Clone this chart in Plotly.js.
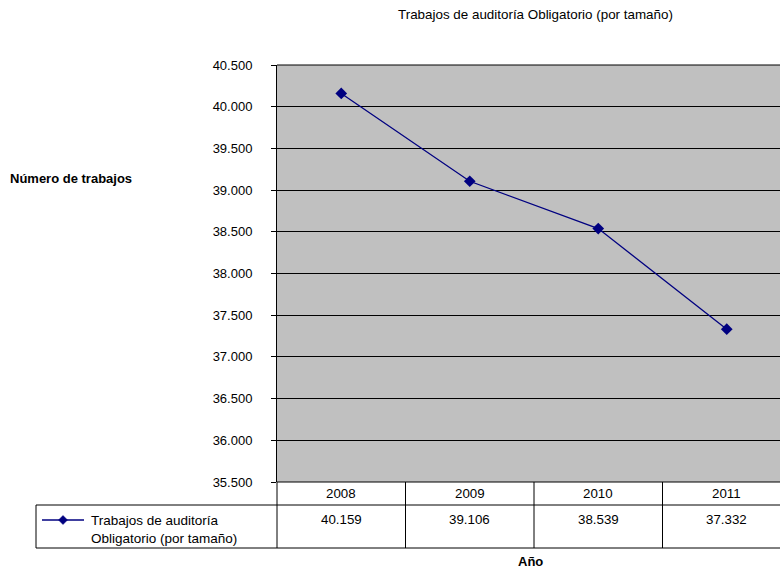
<!DOCTYPE html>
<html>
<head>
<meta charset="utf-8">
<script src="https://cdn.plot.ly/plotly-3.0.1.min.js"></script>
<style>
html,body{margin:0;padding:0;overflow:hidden;background:#fff;}
#chart{width:800px;height:570px;}
</style>
</head>
<body>
<div id="chart"></div>
<script>
// ---- data ----
const years = ['2008', '2009', '2010', '2011'];
const trabajos = [40159, 39106, 38539, 37332];
const seriesName = 'Trabajos de auditoría<br>Obligatorio (por tamaño)';
const chartTitle = 'Trabajos de auditoría Obligatorio (por tamaño)';
const yTitle = 'Número de trabajos';
const xTitle = 'Año';

// ---- layout geometry (pixels) ----
const W = 800, H = 570;
const L = 277, R = 791, T = 65, B = 482;
const pw = R - L, ph = B - T;
const px = x => (x - L) / pw;
const py = y => (B - y) / ph;
const FONT = 'Liberation Sans, Arial, sans-serif';
const NAVY = '#000080';

function fmt(v) {
  return String(v).replace(/\B(?=(\d{3})+(?!\d))/g, '.');
}

const shapes = [];
const annotations = [];
const black = {color: '#000', width: 1};

// table rows
const rowTop = 482, rowMid = 505, rowBot = 548, tableLeft = 36;
shapes.push({type: 'line', xref: 'paper', yref: 'paper', x0: px(tableLeft), x1: 1.02, y0: py(rowMid), y1: py(rowMid), line: black});
shapes.push({type: 'line', xref: 'paper', yref: 'paper', x0: px(tableLeft), x1: 1.02, y0: py(rowBot), y1: py(rowBot), line: black});
shapes.push({type: 'line', xref: 'paper', yref: 'paper', x0: px(tableLeft), x1: px(tableLeft), y0: py(rowMid), y1: py(rowBot), line: black});
shapes.push({type: 'line', xref: 'paper', yref: 'paper', x0: 0, x1: 0, y0: py(rowTop), y1: py(rowBot), line: black});
// column separators
for (let i = 0; i < years.length; i++) {
  shapes.push({type: 'line', xref: 'x', yref: 'paper', x0: i + 0.5, x1: i + 0.5, y0: py(rowTop), y1: py(rowBot), line: black});
}
// top / bottom frame lines of plot
shapes.push({type: 'line', xref: 'paper', yref: 'paper', x0: 0, x1: 1, y0: 1, y1: 1, line: black});
shapes.push({type: 'line', xref: 'paper', yref: 'paper', x0: 0, x1: 1, y0: 0, y1: 0, line: black});

// legend key inside the table's first cell
const keyY = 520, keyX0 = 42, keyX1 = 84, keyXm = 63, d = 4.5;
shapes.push({type: 'line', xref: 'paper', yref: 'paper', x0: px(keyX0), x1: px(keyX1), y0: py(keyY), y1: py(keyY),
  line: {color: NAVY, width: 1.3}});
shapes.push({type: 'path', xref: 'paper', yref: 'paper',
  path: `M ${px(keyXm - d)} ${py(keyY)} L ${px(keyXm)} ${py(keyY - d)} L ${px(keyXm + d)} ${py(keyY)} L ${px(keyXm)} ${py(keyY + d)} Z`,
  fillcolor: NAVY, line: {color: NAVY, width: 0.5}});
annotations.push({xref: 'paper', yref: 'paper', x: px(89), y: py(511), text: seriesName, showarrow: false,
  xanchor: 'left', yanchor: 'top', align: 'left', font: {family: FONT, size: 13.5, color: '#000'}});

years.forEach((yr, i) => {
  annotations.push({xref: 'x', yref: 'paper', x: i, y: py(493.5), text: yr, showarrow: false,
    xanchor: 'center', yanchor: 'middle', font: {family: FONT, size: 13.3, color: '#000'}});
  annotations.push({xref: 'x', yref: 'paper', x: i, y: py(519), text: fmt(trabajos[i]), showarrow: false,
    xanchor: 'center', yanchor: 'middle', font: {family: FONT, size: 13.3, color: '#000'}});
});

annotations.push({xref: 'paper', yref: 'paper', x: px(8), y: py(178), text: '<b>' + yTitle + '</b>', showarrow: false,
  xanchor: 'left', yanchor: 'middle', font: {family: FONT, size: 13, color: '#000'}});
annotations.push({xref: 'paper', yref: 'paper', x: px(530), y: py(561), text: '<b>' + xTitle + '</b>', showarrow: false,
  xanchor: 'center', yanchor: 'middle', font: {family: FONT, size: 13, color: '#000'}});
annotations.push({xref: 'paper', yref: 'paper', x: px(535), y: py(14), text: chartTitle, showarrow: false,
  xanchor: 'center', yanchor: 'middle', font: {family: FONT, size: 13.4, color: '#000'}});

const trace = {
  x: years, y: trabajos, type: 'scatter', mode: 'lines+markers', name: seriesName,
  line: {color: NAVY, width: 1.3},
  marker: {symbol: 'diamond', size: 9, color: NAVY},
  cliponaxis: false
};

const layout = {
  width: W, height: H,
  margin: {l: L, r: W - R, t: T, b: H - B, pad: 0},
  paper_bgcolor: '#fff', plot_bgcolor: '#C0C0C0',
  separators: ',.',
  showlegend: false,
  xaxis: {type: 'category', range: [-0.5, 3.5], showgrid: false, zeroline: false, showline: false,
    showticklabels: false, ticks: '', fixedrange: true},
  yaxis: {range: [35500, 40500], dtick: 500, tick0: 35500, tickformat: ',d', showgrid: true, gridcolor: '#000', gridwidth: 1,
    zeroline: false, showline: true, linecolor: '#000', linewidth: 1, ticks: 'outside', ticklen: 5, tickcolor: '#000',
    ticklabelstandoff: 16,
    tickfont: {family: FONT, size: 13, color: '#000'}},
  shapes: shapes,
  annotations: annotations
};

Plotly.newPlot('chart', [trace], layout, {displayModeBar: false, staticPlot: true});
</script>
</body>
</html>
